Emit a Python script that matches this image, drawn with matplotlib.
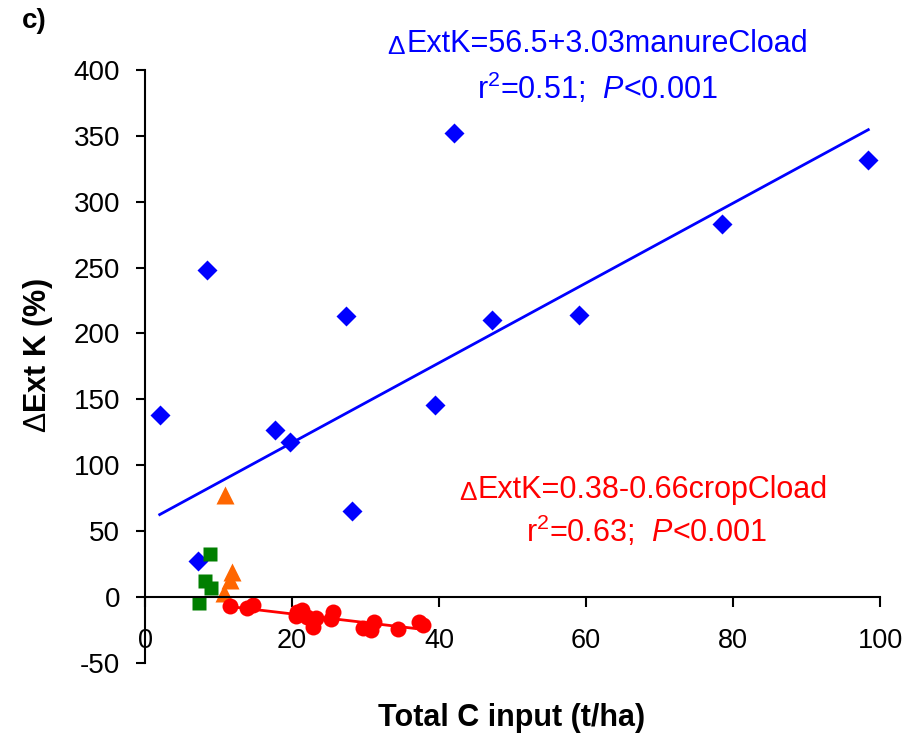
#!/bin/py
#
# Delta Ext K vs total C input (panel c)
#
import numpy as np
import matplotlib
matplotlib.use('Agg')
import matplotlib.pyplot as plt
from matplotlib.offsetbox import TextArea, HPacker, AnnotationBbox

plt.rcParams['font.family'] = ['Liberation Sans', 'DejaVu Sans']
plt.rcParams['mathtext.fontset'] = 'custom'
plt.rcParams['mathtext.rm'] = 'Liberation Sans'
plt.rcParams['mathtext.it'] = 'Liberation Sans:italic'
plt.rcParams['mathtext.bf'] = 'Liberation Sans:bold'
plt.rcParams['axes.unicode_minus'] = False

# manure (blue diamonds)
manure_x = [2.0, 8.5, 7.2, 17.7, 19.7, 27.4, 28.1, 42.0, 39.5, 47.2, 59.0, 78.5, 98.4]
manure_y = [138, 248, 27, 127, 118, 213, 65, 352, 146, 210, 214, 283, 332]

# green squares
green_x = [8.8, 8.1, 9.0, 7.4]
green_y = [33, 12, 6.6, -4.8]

# orange triangles
orange_x = [10.9, 11.9, 11.6, 10.8]
orange_y = [77.5, 19, 13, 3]

# crop (red circles)
crop_x = [11.6, 13.9, 14.7, 20.7, 21.3, 20.5, 22.1, 23.2, 22.8, 25.6, 25.3,
          29.6, 30.7, 31.2, 34.4, 37.3, 37.8]
crop_y = [-6.6, -8.6, -6.1, -11.6, -9.9, -14.4, -14.9, -15.7, -22.5, -11.6, -17,
          -23.8, -25, -18.7, -24.5, -18.7, -21.3]

# regressions
manure_fit = (56.5, 3.03)
crop_fit = (0.38, -0.66)

xticks = [0, 20, 40, 60, 80, 100]
yticks = [-50, 0, 50, 100, 150, 200, 250, 300, 350, 400]


def eqn(ax, x, y, s, color):
    # small delta in front of the equation, like the original
    d = TextArea('\u0394', textprops=dict(color=color, fontsize=19))
    t = TextArea(s, textprops=dict(color=color, fontsize=22))
    box = HPacker(children=[d, t], align='bottom', pad=0, sep=1)
    ab = AnnotationBbox(box, (x, y), xycoords='data', frameon=False,
                        box_alignment=(0.5, 0.5), annotation_clip=False, pad=0)
    ax.add_artist(ab)


def main():
    fig = plt.figure(figsize=(9.12, 7.44), dpi=100)
    ax = fig.add_axes([0.159, 0.109, 0.806, 0.797])

    ax.plot(manure_x, manure_y, 'D', color='#0000FF', ms=10, mec='none')
    ax.plot(green_x, green_y, 's', color='#007F00', ms=10, mec='none')
    ax.plot(orange_x, orange_y, '^', color='#FF6600', ms=13, mec='none')
    ax.plot(crop_x, crop_y, 'o', color='#FF0000', ms=11.5, mec='none')

    # fit lines over the range of the data
    xm = np.array([min(manure_x), max(manure_x)])
    ax.plot(xm, manure_fit[0] + manure_fit[1]*xm, color='#0000FF', lw=2)
    xc = np.array([min(crop_x), max(crop_x)])
    ax.plot(xc, crop_fit[0] + crop_fit[1]*xc, color='#FF0000', lw=2)

    ax.set_xlim(0, 100)
    ax.set_ylim(-50, 400)
    ax.set_xticks(xticks)
    ax.set_yticks(yticks)

    ax.spines['top'].set_visible(False)
    ax.spines['right'].set_visible(False)
    ax.spines['bottom'].set_position(('data', 0))
    ax.spines['left'].set_linewidth(1.5)
    ax.spines['bottom'].set_linewidth(1.5)
    ax.tick_params(axis='x', direction='out', length=7, width=1.5, pad=15, labelsize=19.5)
    ax.tick_params(axis='y', direction='out', length=6.5, width=1.5, pad=11.5, labelsize=20)

    ax.set_xlabel('Total C input (t/ha)', fontsize=22, fontweight='bold')
    ax.xaxis.set_label_coords(0.498, -0.067)
    ax.set_ylabel(r'$\Delta$Ext K (%)', fontsize=22, fontweight='bold')
    ax.yaxis.set_label_coords(-0.122, 0.518)

    # equations
    eqn(ax, 61.6, 420, 'ExtK=56.5+3.03manureCload', '#0000FF')
    ax.text(61.5, 386, r'r$^2$=0.51;  $\mathit{P}$<0.001', color='#0000FF',
            fontsize=22, ha='center', va='center', clip_on=False)
    eqn(ax, 67.8, 81, 'ExtK=0.38-0.66cropCload', '#FF0000')
    ax.text(68.2, 50, r'r$^2$=0.63;  $\mathit{P}$<0.001', color='#FF0000',
            fontsize=22, ha='center', va='center')

    fig.text(0.024, 0.972, 'c)', fontsize=20, fontweight='bold', va='center')

    plt.savefig('out.png', dpi=100)


main()
